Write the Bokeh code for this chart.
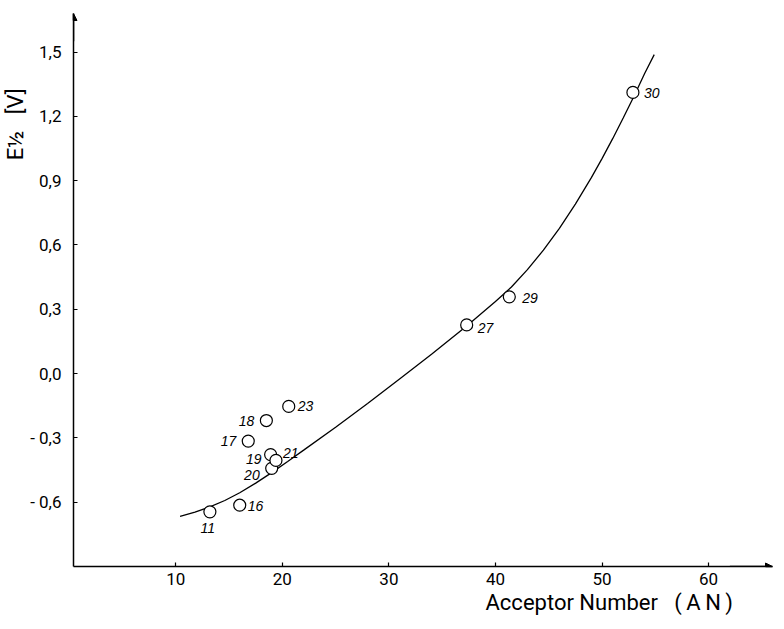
from bokeh.plotting import figure
from bokeh.models import (FixedTicker, LabelSet, ColumnDataSource, Arrow,
                          NormalHead, Range1d, Title)
from bokeh.core.properties import value
from bokeh.embed import file_html
from bokeh.resources import INLINE

# ---- data ----
solvent_ids = ["11", "16", "17", "18", "19", "20", "21", "23", "27", "29", "30"]
acceptor_number = [13.2, 16.0, 16.8, 18.5, 18.9, 19.0, 19.4, 20.6, 37.3, 41.3, 52.9]
e_half = [-0.645, -0.614, -0.315, -0.219, -0.378, -0.442, -0.405, -0.153, 0.227, 0.358, 1.312]

curve_an = [10.4, 11.8, 13.2, 14.6, 16.0, 17.5, 19.0, 20.5, 22.0, 25.0, 28.0, 31.0, 34.0,
            37.3, 40.0, 41.5, 43.0, 44.5, 46.0, 47.5, 49.0, 50.0, 51.0, 52.0, 53.0, 54.0, 54.9]
curve_e = [-0.666, -0.646, -0.622, -0.592, -0.556, -0.511, -0.462, -0.410, -0.357, -0.250,
           -0.140, -0.025, 0.090, 0.222, 0.336, 0.404, 0.485, 0.576, 0.678, 0.791, 0.914,
           1.003, 1.096, 1.194, 1.294, 1.400, 1.488]

x_ticks = [10, 20, 30, 40, 50, 60]
y_ticks = [-0.6, -0.3, 0.0, 0.3, 0.6, 0.9, 1.2, 1.5]
y_tick_labels = ["- 0,6", "- 0,3", "0,0", "0,3", "0,6", "0,9", "1,2", "1,5"]

x_title = "Acceptor Number\u00a0\u00a0\u00a0(\u2009A\u2009N\u2009)"
y_title = "E½\u00a0\u00a0\u00a0[V]"

# ---- label placement (screen px; x right, y up) ----
label_offsets = {
    "30": ("left", 11, -1), "29": ("left", 13, -1), "27": ("left", 11, -3),
    "23": ("left", 9, 0), "16": ("left", 8, -1), "21": ("left", 7, 7),
    "18": ("right", -12, 0), "17": ("right", -12, 0), "19": ("right", -9, -4),
    "20": ("right", -12, -7), "11": ("center", -2, -16),
}

FONT = "Roboto"
NUM_FONT = "Liberation Sans"
X_START, X_END = 0.4, 66.0

p = figure(width=776, height=621, output_backend="svg", toolbar_location=None,
           x_range=Range1d(X_START, X_END), y_range=Range1d(-0.9, 1.68),
           min_border_left=68, min_border_right=4, min_border_top=13, min_border_bottom=55)
p.outline_line_color = None
p.xgrid.visible = False
p.ygrid.visible = False
p.background_fill_color = "white"
p.border_fill_color = "white"

for ax in (p.xaxis[0], p.yaxis[0]):
    ax.axis_line_width = 1.5
    ax.axis_line_color = "black"
    ax.major_tick_in = 4
    ax.major_tick_out = 0
    ax.major_tick_line_width = 1.2
    ax.minor_tick_line_color = None
    ax.major_label_text_font = FONT
    ax.major_label_text_font_size = "17px"
    ax.major_label_text_color = "black"

p.xaxis.ticker = FixedTicker(ticks=x_ticks)
p.xaxis.major_label_standoff = 6
p.yaxis.ticker = FixedTicker(ticks=y_ticks)
p.yaxis.major_label_overrides = {t: l for t, l in zip(y_ticks, y_tick_labels)}
p.yaxis.major_label_standoff = 12

# fitted curve
p.line(curve_an, curve_e, line_color="black", line_width=1.3)

# points
p.scatter(acceptor_number, e_half, marker="circle", size=12,
          fill_color="white", line_color="black", line_width=1.2)

# point labels
for align in ("left", "right", "center"):
    ids = [s for s in solvent_ids if label_offsets[s][0] == align]
    idx = [solvent_ids.index(s) for s in ids]
    src = ColumnDataSource(dict(
        x=[acceptor_number[i] for i in idx],
        y=[e_half[i] for i in idx],
        t=ids,
        xo=[label_offsets[s][1] for s in ids],
        yo=[label_offsets[s][2] for s in ids],
    ))
    p.add_layout(LabelSet(x="x", y="y", text="t", x_offset="xo", y_offset="yo",
                          source=src, text_align=value(align), text_baseline=value("middle"),
                          text_font=value(NUM_FONT), text_font_style=value("italic"),
                          text_font_size=value("14px"), text_color=value("black")))

# axis arrows
p.add_layout(Arrow(end=NormalHead(size=7, fill_color="black", line_color="black"),
                   x_start=X_START, y_start=1.55, x_end=X_START, y_end=1.68,
                   line_width=1.5, line_color="black"))
p.add_layout(Arrow(end=NormalHead(size=7, fill_color="black", line_color="black"),
                   x_start=62, y_start=-0.9, x_end=X_END, y_end=-0.9,
                   line_width=1.5, line_color="black"))

# axis titles
p.add_layout(Title(text=x_title, align="left", text_font=FONT, text_font_size="22px",
                   text_font_style="normal", text_color="black", standoff=0, offset=412),
             "below")
p.add_layout(Title(text=y_title, align="right", text_font=FONT, text_font_size="22px",
                   text_font_style="normal", text_color="black", standoff=0, offset=75),
             "left")

open("out.html", "w").write(file_html(p, INLINE))
